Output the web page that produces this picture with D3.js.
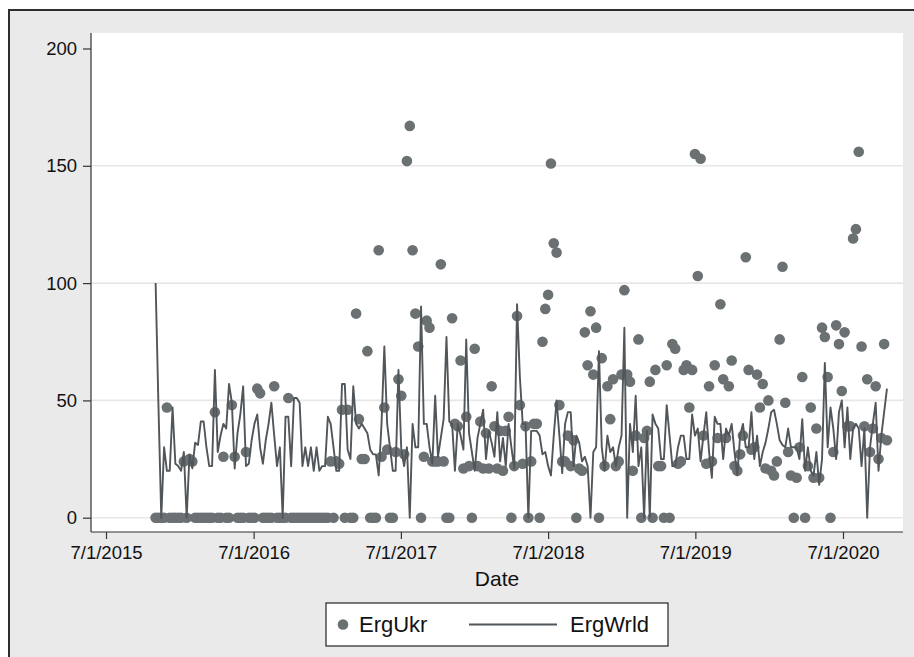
<!DOCTYPE html>
<html>
<head>
<meta charset="utf-8">
<script src="https://cdn.jsdelivr.net/npm/d3@7"></script>
<style>
  body { margin: 0; background: #fff; }
  svg { display: block; font-family: "Liberation Sans", Arial, Helvetica, sans-serif; }
</style>
</head>
<body>
<div id="chart"></div>
<script>
// weekly series, first week starts here
const startDate = '2015-11-01'

// ErgUkr (markers), one value per week
const ergUkr = [
  0, 0, 0, 0, 47, 0, 0, 0, 0, 0,
  24, 0, 25, 24, 0, 0, 0, 0, 0, 0,
  0, 45, 0, 0, 26, 0, 0, 48, 26, 0,
  0, 0, 28, 0, 0, 0, 55, 53, 0, 0,
  0, 0, 56, 0, 0, 0, 0, 51, 0, 0,
  0, 0, 0, 0, 0, 0, 0, 0, 0, 0,
  0, 0, 24, 0, 24, 23, 46, 0, 46, 0,
  0, 87, 42, 25, 25, 71, 0, 0, 0, 114,
  26, 47, 29, 0, 0, 28, 59, 52, 27, 152,
  167, 114, 87, 73, 0, 26, 84, 81, 24, 24,
  24, 108, 24, 0, 0, 85, 40, 39, 67, 21,
  43, 22, 0, 72, 22, 41, 21, 36, 21, 56,
  39, 21, 37, 20, 37, 43, 0, 22, 86, 48,
  23, 39, 0, 24, 40, 40, 0, 75, 89, 95,
  151, 117, 113, 48, 24, 24, 35, 22, 33, 0,
  21, 20, 79, 65, 88, 61, 81, 0, 68, 22,
  56, 42, 59, 22, 24, 61, 97, 61, 58, 20,
  35, 76, 0, 34, 37, 58, 0, 63, 22, 22,
  0, 65, 0, 74, 72, 23, 24, 63, 65, 47,
  63, 155, 103, 153, 35, 23, 56, 24, 65, 34,
  91, 59, 34, 56, 67, 22, 20, 27, 35, 111,
  63, 29, 30, 61, 47, 57, 21, 50, 20, 18,
  24, 76, 107, 49, 28, 18, 0, 17, 30, 60,
  0, 22, 47, 17, 38, 17, 81, 77, 60, 0,
  28, 82, 74, 54, 79, 39, 39, 119, 123, 156,
  73, 39, 59, 28, 38, 56, 25, 34, 74, 33
]

// ErgWrld (line), one value per week
const ergWrld = [
  100, 48, 0, 30, 20, 20, 47, 23, 22, 20,
  28, 0, 27, 21, 32, 31, 41, 41, 30, 22,
  22, 63, 28, 35, 40, 38, 57, 49, 21, 36,
  44, 56, 22, 23, 33, 40, 44, 30, 23, 33,
  40, 49, 35, 22, 30, 0, 43, 43, 22, 51,
  51, 49, 22, 30, 22, 30, 20, 30, 20, 22,
  22, 43, 40, 30, 20, 20, 57, 57, 29, 25,
  56, 40, 38, 40, 38, 36, 29, 27, 27, 18,
  40, 73, 40, 30, 20, 20, 63, 29, 22, 30,
  0, 40, 30, 30, 90, 40, 40, 30, 23, 52,
  26, 34, 42, 77, 41, 40, 20, 40, 35, 29,
  76, 36, 28, 20, 34, 40, 46, 25, 37, 32,
  26, 45, 24, 34, 22, 40, 30, 21, 91, 60,
  40, 40, 0, 37, 37, 37, 35, 27, 28, 22,
  18, 35, 50, 35, 19, 40, 45, 45, 22, 35,
  32, 24, 26, 22, 0, 28, 30, 71, 30, 20,
  35, 28, 30, 22, 30, 35, 81, 0, 40, 28,
  52, 22, 30, 0, 37, 0, 44, 40, 38, 25,
  25, 48, 35, 22, 22, 30, 35, 35, 25, 25,
  44, 35, 38, 24, 35, 45, 28, 17, 43, 40,
  40, 25, 38, 35, 40, 28, 18, 35, 40, 30,
  30, 45, 25, 35, 22, 28, 32, 38, 45, 46,
  40, 33, 31, 30, 38, 30, 30, 30, 25, 42,
  20, 30, 20, 18, 28, 14, 25, 66, 30, 47,
  38, 25, 45, 50, 30, 47, 25, 38, 40, 38,
  22, 38, 0, 30, 40, 49, 20, 35, 45, 55
]

const xTicks = ['2015-07-01', '2016-07-01', '2017-07-01', '2018-07-01', '2019-07-01', '2020-07-01']
const yTicks = [0, 50, 100, 150, 200]
const seriesNames = ['ErgUkr', 'ErgWrld']

// Our canvas
const width = 914,
height = 657
const plot = { left: 91, top: 33, right: 903, bottom: 532 }

const markerColor = '#6b7073'
const lineColor = '#50565a'

const parse = d3.timeParse('%Y-%m-%d')
const start = parse(startDate)
const weeks = ergWrld.map((d, i) => d3.timeDay.offset(start, i * 7))

let svg = d3.select('#chart')
.append('svg')
.attr('width', width)
.attr('height', height)

// outer frame
svg.append('rect')
.attr('x', 9)
.attr('y', 10)
.attr('width', width + 20)
.attr('height', height + 20)
.attr('fill', '#eaeaea')
.attr('stroke', '#2e2e2e')
.attr('stroke-width', 2)

svg.append('rect')
.attr('x', plot.left)
.attr('y', plot.top)
.attr('width', plot.right - plot.left)
.attr('height', plot.bottom - plot.top)
.attr('fill', '#fff')

const xScale = d3.scaleTime()
.domain([parse(xTicks[0]), parse(xTicks[5])])
.range([106, 843])

const yScale = d3.scaleLinear()
.domain([0, 200])
.range([517.7, 48.5])

// grid
svg.append('g')
.selectAll('line')
.data(yTicks.filter(d => d < 200))
.enter()
.append('line')
.attr('x1', plot.left)
.attr('x2', plot.right)
.attr('y1', d => yScale(d))
.attr('y2', d => yScale(d))
.attr('stroke', '#e7e7e7')
.attr('stroke-width', 1.6)

// axes
const yAxis = d3.axisLeft(yScale)
.tickValues(yTicks)
.tickSize(8)
.tickPadding(6)

const xAxis = d3.axisBottom(xScale)
.tickValues(xTicks.map(parse))
.tickFormat(d3.timeFormat('%-m/%-d/%Y'))
.tickSize(7)
.tickPadding(7)

let gy = svg.append('g')
.attr('transform', `translate(${plot.left},0)`)
.call(yAxis)

let gx = svg.append('g')
.attr('transform', `translate(0,${plot.bottom})`)
.call(xAxis)

;[gx, gy].forEach(g => {
  g.select('.domain').remove()
  g.selectAll('line').attr('stroke', '#333').attr('stroke-width', 1.2)
  g.selectAll('text').attr('fill', '#111').style('font-size', '18.5px')
})

svg.append('line')
.attr('x1', plot.left).attr('x2', plot.left)
.attr('y1', plot.top).attr('y2', plot.bottom)
.attr('stroke', '#333').attr('stroke-width', 1.2)

svg.append('line')
.attr('x1', plot.left).attr('x2', plot.right)
.attr('y1', plot.bottom).attr('y2', plot.bottom)
.attr('stroke', '#333').attr('stroke-width', 1.2)

svg.append('text')
.attr('x', 497)
.attr('y', 586)
.attr('text-anchor', 'middle')
.attr('fill', '#111')
.style('font-size', '21px')
.text('Date')

// markers
svg.append('g')
.selectAll('circle')
.data(ergUkr)
.enter()
.append('circle')
.attr('cx', (d, i) => xScale(weeks[i]))
.attr('cy', d => yScale(d))
.attr('r', 5.3)
.attr('fill', markerColor)

// line
const line = d3.line()
.x((d, i) => xScale(weeks[i]))
.y(d => yScale(d))

svg.append('path')
.datum(ergWrld)
.attr('d', line)
.attr('fill', 'none')
.attr('stroke', lineColor)
.attr('stroke-width', 1.9)
.attr('stroke-linejoin', 'round')

// legend
let legend = svg.append('g')

legend.append('rect')
.attr('x', 326)
.attr('y', 603)
.attr('width', 342)
.attr('height', 43)
.attr('fill', '#fff')
.attr('stroke', '#222')
.attr('stroke-width', 1.2)

legend.append('circle')
.attr('cx', 343)
.attr('cy', 624.5)
.attr('r', 5.3)
.attr('fill', markerColor)

legend.append('line')
.attr('x1', 469)
.attr('x2', 557)
.attr('y1', 624.5)
.attr('y2', 624.5)
.attr('stroke', lineColor)
.attr('stroke-width', 1.9)

legend.selectAll('text')
.data(seriesNames)
.enter()
.append('text')
.attr('x', (d, i) => i === 0 ? 359 : 570)
.attr('y', 632)
.attr('fill', '#111')
.style('font-size', '22px')
.text(d => d)
</script>
</body>
</html>
